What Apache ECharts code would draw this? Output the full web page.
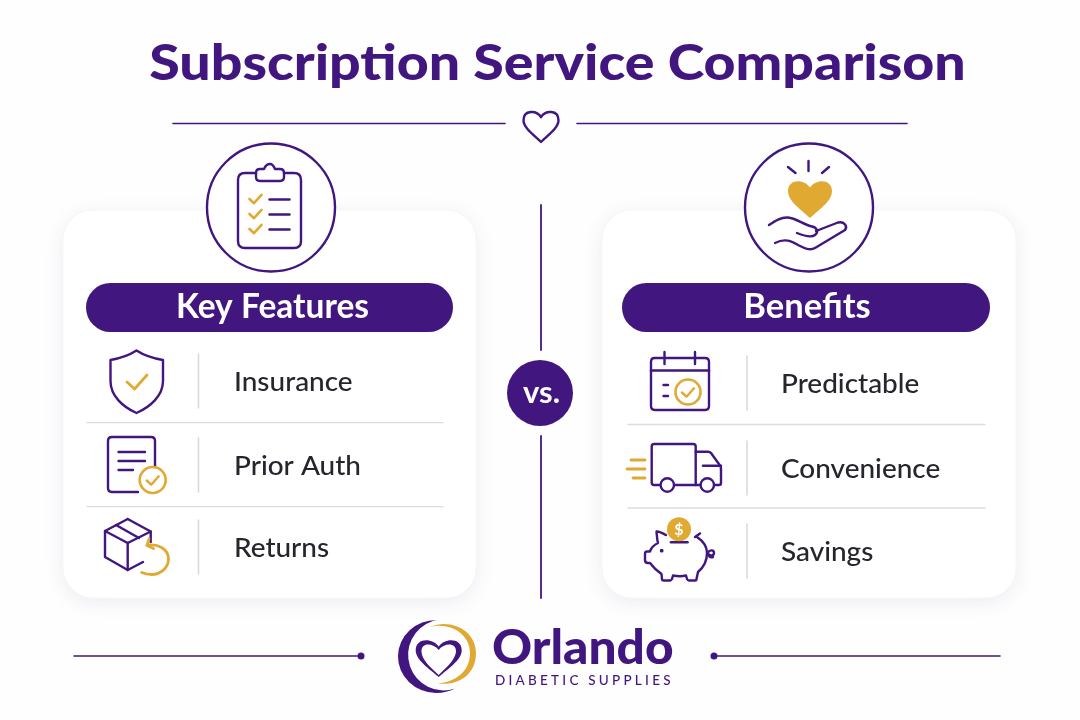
<!DOCTYPE html>
<html>
<head>
<meta charset="utf-8">
<title>Subscription Service Comparison</title>
<script src="https://cdn.jsdelivr.net/npm/echarts@6/dist/echarts.min.js"></script>
<style>
  html, body { margin: 0; padding: 0; background: #fefefe; }
  #main { width: 1080px; height: 720px; }
</style>
</head>
<body>
<div id="main"></div>
<script>
const titleText = 'Subscription Service Comparison';
const leftHeading = 'Key Features';
const rightHeading = 'Benefits';
const featureLabels = ['Insurance', 'Prior Auth', 'Returns'];
const benefitLabels = ['Predictable', 'Convenience', 'Savings'];
const middleText = 'vs.';
const brandName = 'Orlando';
const brandLine = 'DIABETIC SUPPLIES';

const featureRowY = [382, 466, 548];
const benefitRowY = [384, 469, 552];

const PURPLE = '#41167f';
const GOLD = '#e0aa32';
const INK = '#25252e';
const RULE = '#dcdbe8';
const FONT = 'Lato, "Open Sans", sans-serif';

const els = [];

function line(d, color, w) {
  els.push({
    type: 'path',
    shape: { pathData: d },
    style: { fill: 'none', stroke: color || PURPLE, lineWidth: w || 2.4, lineCap: 'round', lineJoin: 'round' }
  });
}
function solid(d, color) {
  els.push({ type: 'path', shape: { pathData: d }, style: { fill: color, stroke: 'none' } });
}
function circle(cx, cy, r, fill, stroke, w) {
  els.push({
    type: 'circle',
    shape: { cx: cx, cy: cy, r: r },
    style: { fill: fill || 'none', stroke: stroke || 'none', lineWidth: w || 0 }
  });
}
// stretch is horizontal: the original lettering is wider than Lato
function label(text, x, y, font, fill, align, stretch) {
  els.push({
    type: 'text',
    x: x,
    y: y,
    scaleX: stretch || 1,
    style: { text: text, x: 0, y: 0, font: font, fill: fill, textAlign: align || 'left', textVerticalAlign: 'middle' }
  });
}
function heartPath(cx, y, w, h) {
  return 'M' + cx + ' ' + (y + .2 * h) +
    'C' + (cx - .12 * w) + ' ' + (y - .03 * h) + ' ' + (cx - .5 * w) + ' ' + (y - .05 * h) + ' ' + (cx - .5 * w) + ' ' + (y + .3 * h) +
    'C' + (cx - .5 * w) + ' ' + (y + .55 * h) + ' ' + (cx - .2 * w) + ' ' + (y + .78 * h) + ' ' + cx + ' ' + (y + h) +
    'C' + (cx + .2 * w) + ' ' + (y + .78 * h) + ' ' + (cx + .5 * w) + ' ' + (y + .55 * h) + ' ' + (cx + .5 * w) + ' ' + (y + .3 * h) +
    'C' + (cx + .5 * w) + ' ' + (y - .05 * h) + ' ' + (cx + .12 * w) + ' ' + (y - .03 * h) + ' ' + cx + ' ' + (y + .2 * h) + 'Z';
}

// spread single letters between two x positions, there is no letter spacing in canvas text here
function spaced(text, x0, x1, y, font, fill) {
  const ctx = document.createElement('canvas').getContext('2d');
  ctx.font = font;
  const total = ctx.measureText(text).width;
  const gap = (x1 - x0 - total) / (text.length - 1);
  let x = x0;
  for (const ch of text) {
    if (ch !== ' ') label(ch, x, y, font, fill);
    x += ctx.measureText(ch).width + gap;
  }
}

function card(x, w, pillX, pillW, heading, headingX, stretch, circleX) {
  els.push({
    type: 'rect',
    shape: { x: x, y: 210, width: w, height: 388, r: 30 },
    style: { fill: '#ffffff', stroke: '#f7f7f9', lineWidth: 1, shadowBlur: 20, shadowOffsetY: 4, shadowColor: 'rgba(60,40,110,0.09)' }
  });
  circle(circleX, 207.5, 64, '#ffffff', PURPLE, 2.4);
  els.push({
    type: 'rect',
    shape: { x: pillX, y: 283, width: pillW, height: 49, r: 24.5 },
    style: { fill: PURPLE }
  });
  label(heading, headingX, 307.5, 'bold 33.5px ' + FONT, '#ffffff', 'center', stretch);
}

function rows(labels, rowY, dividerX, textX, ruleX, ruleY) {
  labels.forEach(function (name, i) {
    label(name, textX, rowY[i], '500 27px ' + FONT, INK, 'left', 1.035);
    line('M' + dividerX + ' ' + (rowY[i] - 28) + 'V' + (rowY[i] + 26), '#d6d6df', 1.5);
  });
  ruleY.forEach(function (y) {
    line('M' + ruleX[0] + ' ' + y + 'H' + ruleX[1], RULE, 1.3);
  });
}

function tick(x, y, s, color, w) {
  line('M' + (x - s) + ' ' + y + 'L' + (x - s * .25) + ' ' + (y + s * .7) + 'L' + (x + s) + ' ' + (y - s * .7), color || GOLD, w || 2.6);
}

function drawHeader() {
  label(titleText, 557.5, 64, '900 50px ' + FONT, PURPLE, 'center', 1.109);
  line('M173 123.5H505', PURPLE, 1.6);
  line('M577 123.5H907', PURPLE, 1.6);
  line(heartPath(541, 111, 35, 31), PURPLE, 2.4);
}

function drawCentre() {
  line('M541 205V350', PURPLE, 1.8);
  line('M541 436V598', PURPLE, 1.8);
  circle(540, 393, 33, PURPLE);
  label(middleText, 541.5, 393, 'bold 31px ' + FONT, '#ffffff', 'center');
}

function drawClipboard() {
  line('M256 173H245Q238 173 238 180V241Q238 248 245 248H294Q301 248 301 241V180Q301 173 294 173H284');
  line('M260 181H280Q284 181 284 177V173Q284 169 280 169H275Q273 164 270 164Q266 164 264 169H260Q256 169 256 173V177Q256 181 260 181Z');
  [199, 214, 229].forEach(function (y) {
    tick(255.5, y, 6, GOLD, 2.6);
    line('M269.5 ' + (y + 0.5) + 'H289.5', PURPLE, 2.4);
  });
}

function drawHand() {
  solid(heartPath(810, 180, 44, 38), GOLD);
  line('M808.5 161V171');
  line('M788 167L795.5 173');
  line('M829 167L822 173');
  line('M769 225C775 221 781 217 788 217.5C796 218 804 225 812 226.5C817 227.5 819 232 815 235C811 238 802 235 797 233');
  line('M816 231L838 222.5C844 221 848 226 845 230L815 248C810 251 804 248 799 245.5C791 241 785 238 775 243');
}

function drawFeatureIcons() {
  // shield
  line('M136.5 350.5C128 356 119 358.5 110.5 360V381C110.5 396 123 407 136.5 413C150 407 163 396 163 381V360C154 358.5 145 356 136.5 350.5Z');
  tick(137, 382, 10, GOLD, 2.8);
  // document
  line('M138 492H112Q108 492 108 488V441Q108 437 112 437H151Q155 437 155 441V467');
  line('M118.5 452H145');
  line('M118.5 461H145');
  line('M118.5 470H133');
  circle(152.7, 480, 13, 'none', GOLD, 2.6);
  tick(152.7, 480.5, 6, GOLD, 2.4);
  // box with return arrow
  line('M127.7 519L105 531V557L127.7 570L143 562');
  line('M127.7 519L150.7 531.5V542');
  line('M105 531L127.7 543L150.7 531.5');
  line('M127.7 543V570');
  line('M116 525L139 538');
  line('M147 545.5C157 543 168.5 549 168.5 559C168.5 568 160 574.5 152 574.5C148 574.5 144 573.5 141.7 572.5', GOLD, 2.8);
  line('M149 539L147 545.5L153.5 548.5', GOLD, 2.8);
}

function drawBenefitIcons() {
  // calendar
  line('M654.5 358H705Q709 358 709 362V406Q709 410 705 410H655Q651 410 651 406V362Q651 358 654.5 358Z');
  line('M651 370.5H709');
  line('M664.5 352V364');
  line('M695 352V364');
  line('M663.5 385H668');
  line('M663.5 396H668');
  circle(688, 392, 12.5, '#ffffff', GOLD, 2.6);
  tick(688, 392.5, 6, GOLD, 2.4);
  // truck
  line('M660.5 485H654Q651.7 485 651.7 482.5V446.5Q651.7 444 654 444H693Q695.7 444 695.7 446.5V485H674');
  line('M695.7 451.7H708Q710 451.7 711 453L720 465.5Q721 467 721 469V483Q721 485 719 485H714');
  line('M695.7 485H700.5');
  line('M703 465.7H721');
  circle(667.3, 485, 6.7, '#ffffff', PURPLE, 2.4);
  circle(707.3, 485, 6.7, '#ffffff', PURPLE, 2.4);
  line('M631 460H645', GOLD, 2.8);
  line('M627 469H645', GOLD, 2.8);
  line('M633 478H645', GOLD, 2.8);
  // piggy bank
  line('M666 535C662 533 659 531 656.5 531.5C657 536 657 540 658 543C654 545 651 548 650 551.5H647C645.5 551.5 645 553 645 554V560C645 562 646 563 648 563H650C653 567 657 571 661.5 574L662 579C662 580 662.5 580.5 664 580.5H670C671 580.5 671.5 580 672 579L673 575.5C678 576.5 682 576.5 686 575.5L687 579C687.5 580 688 580.5 689 580.5H695C696 580.5 696.5 580 696.5 579L698 572C704 567 707 560 707 553C707 546 703 541 697 537');
  line('M695 537L700 533.5');
  line('M707.5 553C710 549 714 550 714 553C714 556 710 556 708.5 554C708 556 710 558 713 557');
  line('M671 542.3H687.5', PURPLE, 2.6);
  circle(679, 529.3, 12, GOLD);
  label('$', 679, 529.5, 'bold 16px ' + FONT, '#ffffff', 'center');
  circle(661.7, 550.7, 1.9, PURPLE);
}

function drawFooter() {
  line('M74 656H361', PURPLE, 1.6);
  circle(361, 656, 3.5, PURPLE);
  line('M714 656H1000', PURPLE, 1.6);
  circle(714, 656, 3.5, PURPLE);
  solid('M437 620A38.5 36.5 0 1 0 455 688.5A35.5 35.5 0 1 1 437 620Z', PURPLE);
  solid('M430 627C450 618 476 630 476 653C476 675 458 686 438 683.5C455 682 470 672 470 653C470 634 450 622 430 627Z', GOLD);
  solid(heartPath(438.7, 639, 46, 38), PURPLE);
  solid('M438.7 650C433 643 421 642 421.5 652C422 660 431 668 438.7 675C446 668 455 660 456 652C456.5 642 444 643 438.7 650Z', '#ffffff');
  label(brandName, 492, 648.5, '900 47px ' + FONT, PURPLE, 'left', 1.055);
  spaced(brandLine, 495, 670.5, 681, '500 13.5px ' + FONT, PURPLE);
}

card(63, 413, 86, 367, leftHeading, 272.5, 1, 271);
card(602, 414, 622, 368, rightHeading, 807, 1.03, 809);
rows(featureLabels, featureRowY, 198.5, 234, [87, 443], [422.7, 506.7]);
rows(benefitLabels, benefitRowY, 747, 781, [628, 985], [424.5, 508]);
drawHeader();
drawCentre();
drawClipboard();
drawHand();
drawFeatureIcons();
drawBenefitIcons();
drawFooter();

const chart = echarts.init(document.getElementById('main'), null, { renderer: 'canvas' });
chart.setOption({
  backgroundColor: '#fefefe',
  animation: false,
  series: [{
    type: 'custom',
    coordinateSystem: 'none',
    silent: true,
    data: [[0]],
    // the graphic component has no path type, custom series does
    renderItem: function () {
      return { type: 'group', children: els };
    }
  }]
});
</script>
</body>
</html>
